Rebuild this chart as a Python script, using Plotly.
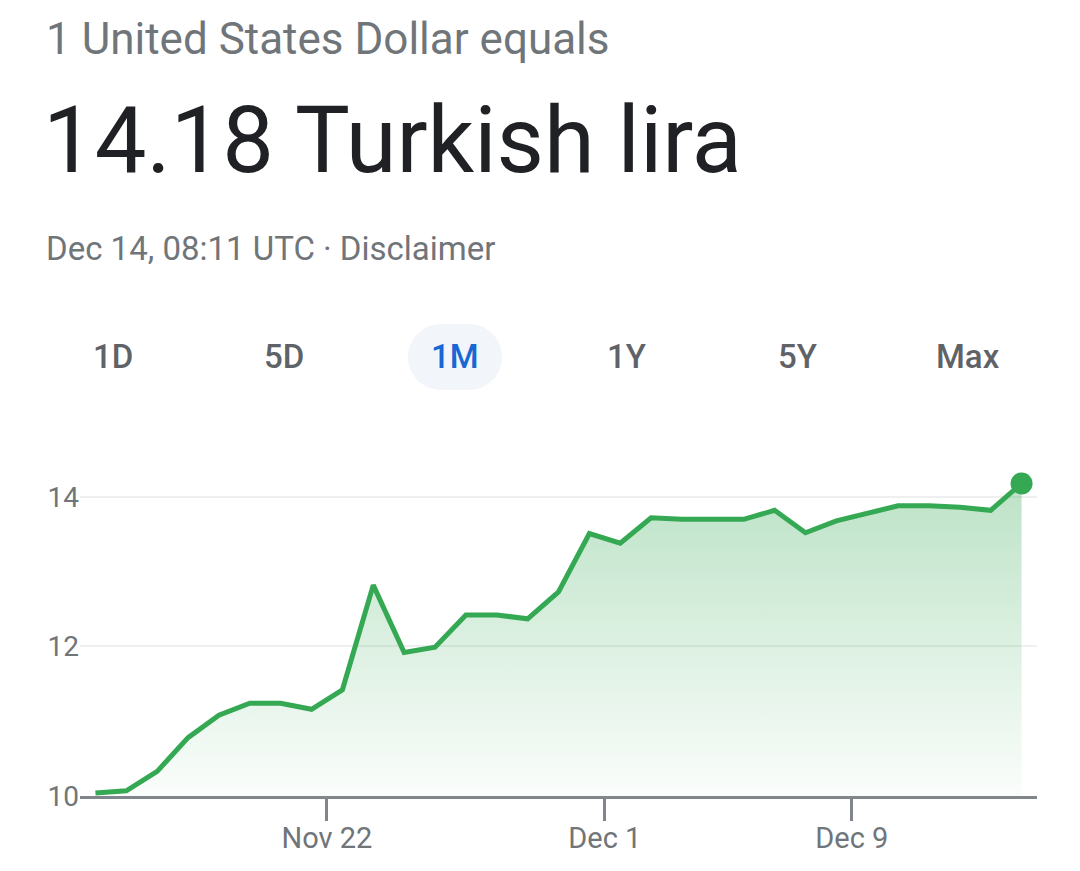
import plotly.graph_objects as go
import pandas as pd

# ---- data ----
dates = pd.date_range("2021-11-14 12:00", "2021-12-14 12:00", freq="D")
rates = [10.04, 10.07, 10.33, 10.78, 11.08, 11.24, 11.24, 11.16, 11.42, 12.82,
         11.92, 11.99, 12.42, 12.42, 12.37, 12.73, 13.51, 13.38, 13.72, 13.70,
         13.70, 13.70, 13.82, 13.52, 13.68, 13.78, 13.88, 13.88, 13.86, 13.82,
         14.18]
x_ticks = ["2021-11-22", "2021-12-01", "2021-12-09"]
x_tick_labels = ["Nov 22", "Dec 1", "Dec 9"]
y_ticks = [10, 12, 14]
ranges = ["1D", "5D", "1M", "1Y", "5Y", "Max"]
selected_range = "1M"

header = "1 United States Dollar equals"
value_text = "14.18 Turkish lira"
stamp = "Dec 14, 08:11 UTC · Disclaimer"

# ---- layout geometry (page pixels; page body has an 8px margin) ----
OFF = 8
W, H = 1080 - OFF, 871 - OFF
L, R, T, B = 80, 1037, 452, 796


def px(x):
    return (x - L) / (R - L)


def py(y):
    return (B - y) / (B - T)


GREEN = "#34a853"
GRAY = "#70757a"

fig = go.Figure()
fig.add_trace(go.Scatter(
    x=dates, y=rates, mode="lines",
    line=dict(color=GREEN, width=5),
    fill="tozeroy",
    fillgradient=dict(type="vertical", start=10, stop=14.2,
                      colorscale=[[0, "rgba(52,168,83,0.02)"],
                                  [1, "rgba(52,168,83,0.33)"]]),
    hoverinfo="skip", showlegend=False,
))
fig.add_trace(go.Scatter(
    x=[dates[-1]], y=[rates[-1]], mode="markers",
    marker=dict(color=GREEN, size=22),
    hoverinfo="skip", showlegend=False, cliponaxis=False,
))

annotations = [
    dict(text=header, x=px(44), y=py(39), xanchor="left", yanchor="middle",
         font=dict(family="Roboto", size=44, color=GRAY)),
    dict(text=value_text, x=px(41), y=py(140), xanchor="left", yanchor="middle",
         font=dict(family="Roboto", size=92, color="#202124")),
    dict(text=stamp, x=px(44), y=py(248), xanchor="left", yanchor="middle",
         font=dict(family="Roboto", size=33, color=GRAY)),
]
for i, r in enumerate(ranges):
    cx = 113 + 171 * i
    annotations.append(dict(
        text=r, x=px(cx), y=py(356), xanchor="center", yanchor="middle",
        font=dict(family="Roboto", size=33, weight=500,
                  color="#1967d2" if r == selected_range else "#5f6368")))
for a in annotations:
    a.update(xref="paper", yref="paper", showarrow=False)

# pill behind selected range
sel = ranges.index(selected_range)
cx, cy, w, h = 113 + 171 * sel, 357, 94, 66
r = h / 2
k = 0.5523 * r
xl, xr, yt, yb = cx - w / 2, cx + w / 2, cy - h / 2, cy + h / 2


def P(x, y):
    return f"{px(x):.5f},{py(y):.5f}"


path = (f"M{P(xl + r, yt)} L{P(xr - r, yt)} "
        f"C{P(xr - r + k, yt)} {P(xr, cy - k)} {P(xr, cy)} "
        f"C{P(xr, cy + k)} {P(xr - r + k, yb)} {P(xr - r, yb)} "
        f"L{P(xl + r, yb)} "
        f"C{P(xl + r - k, yb)} {P(xl, cy + k)} {P(xl, cy)} "
        f"C{P(xl, cy - k)} {P(xl + r - k, yt)} {P(xl + r, yt)} Z")
shapes = [dict(type="path", xref="paper", yref="paper", path=path,
               fillcolor="#f2f5f9", line=dict(width=0), layer="below")]

fig.update_layout(
    width=W, height=H,
    margin=dict(l=L - OFF, r=1080 - R, t=T - OFF, b=871 - B, pad=0),
    paper_bgcolor="white", plot_bgcolor="white",
    annotations=annotations, shapes=shapes,
    xaxis=dict(
        type="date", range=["2021-11-14", "2021-12-15"],
        tickvals=x_ticks, ticktext=x_tick_labels,
        showgrid=False, zeroline=False,
        showline=True, linecolor="#80868b", linewidth=2.5,
        ticks="outside", ticklen=22, tickwidth=2.5, tickcolor="#80868b",
        ticklabelstandoff=-8,
        tickfont=dict(family="Roboto", size=29, color=GRAY),
        fixedrange=True,
    ),
    yaxis=dict(
        range=[10, 14.6], tickvals=y_ticks,
        showgrid=True, gridcolor="#efefef", gridwidth=1.5,
        zeroline=False, showline=False, ticks="",
        tickfont=dict(family="Roboto", size=28, color=GRAY),
        fixedrange=True,
    ),
)

fig.write_html("out.html", config={"displayModeBar": False})
